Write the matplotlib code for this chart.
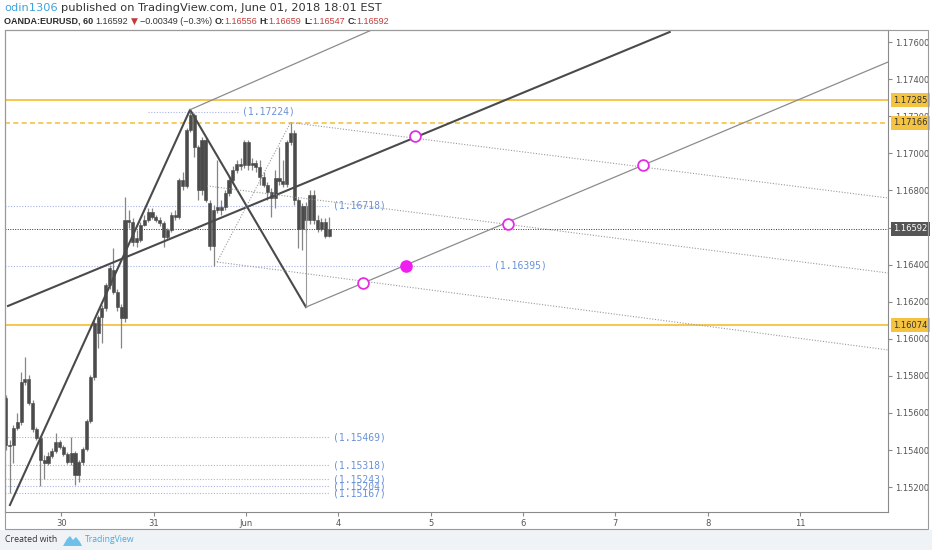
import numpy as np
import matplotlib
matplotlib.use("Agg")
import matplotlib.pyplot as plt
from matplotlib import font_manager
from matplotlib.patches import Rectangle, Polygon
from matplotlib.transforms import blended_transform_factory

W, H = 932, 550

# hourly EUR/USD candles, May 29 - Jun 01 2018
opens = [1.15681, 1.15428, 1.15425, 1.15519, 1.15552, 1.15767, 1.15784, 1.15654, 1.15514, 1.15466,
         1.15347, 1.15331, 1.15369, 1.15396, 1.15444, 1.15417, 1.15379, 1.15336, 1.15385, 1.15266,
         1.15336, 1.15406, 1.15557, 1.15794, 1.16032, 1.16118, 1.16166, 1.16290, 1.16371, 1.16253,
         1.16172, 1.16112, 1.16641, 1.16630, 1.16522, 1.16533, 1.16614, 1.16641, 1.16684, 1.16657,
         1.16641, 1.16624, 1.16549, 1.16587, 1.16668, 1.16657, 1.16856, 1.16824, 1.17126, 1.17207,
         1.17034, 1.16802, 1.17072, 1.16732, 1.16500, 1.16695, 1.16711, 1.16711, 1.16786, 1.16856,
         1.16910, 1.16942, 1.16937, 1.17061, 1.16937, 1.16948, 1.16926, 1.16872, 1.16829, 1.16792,
         1.16759, 1.16867, 1.16851, 1.16835, 1.17061, 1.17110, 1.16748, 1.16592, 1.16716, 1.16641,
         1.16775, 1.16641, 1.16592, 1.16630, 1.16556]
highs = [1.15697, 1.15455, 1.15536, 1.15600, 1.15821, 1.15902, 1.15805, 1.15670, 1.15525, 1.15476,
         1.15374, 1.15390, 1.15412, 1.15493, 1.15455, 1.15428, 1.15390, 1.15469, 1.15396, 1.15347,
         1.15417, 1.15568, 1.15805, 1.16102, 1.16130, 1.16180, 1.16300, 1.16400, 1.16490, 1.16270,
         1.16190, 1.16765, 1.16695, 1.16651, 1.16587, 1.16630, 1.16668, 1.16705, 1.16705, 1.16668,
         1.16657, 1.16635, 1.16597, 1.16684, 1.16695, 1.16867, 1.16899, 1.17136, 1.17224, 1.17215,
         1.17045, 1.17088, 1.17083, 1.16748, 1.16721, 1.16964, 1.16748, 1.16802, 1.16878, 1.16932,
         1.16964, 1.16975, 1.17072, 1.17072, 1.16975, 1.16964, 1.16964, 1.16899, 1.16845, 1.16813,
         1.16910, 1.17034, 1.16964, 1.17072, 1.17166, 1.17126, 1.16759, 1.16732, 1.16738, 1.16802,
         1.16802, 1.16668, 1.16651, 1.16651, 1.16659]
lows = [1.15401, 1.15167, 1.15331, 1.15509, 1.15536, 1.15751, 1.15643, 1.15498, 1.15455, 1.15204,
        1.15243, 1.15318, 1.15358, 1.15385, 1.15406, 1.15369, 1.15325, 1.15320, 1.15210, 1.15228,
        1.15320, 1.15396, 1.15546, 1.15778, 1.15951, 1.15978, 1.16150, 1.16270, 1.16240, 1.16150,
        1.15951, 1.16090, 1.16597, 1.16500, 1.16495, 1.16522, 1.16608, 1.16630, 1.16646, 1.16630,
        1.16608, 1.16495, 1.16533, 1.16576, 1.16641, 1.16646, 1.16802, 1.16813, 1.17115, 1.16980,
        1.16748, 1.16775, 1.16738, 1.16479, 1.16395, 1.16678, 1.16668, 1.16695, 1.16770, 1.16840,
        1.16894, 1.16910, 1.16921, 1.16910, 1.16910, 1.16899, 1.16829, 1.16818, 1.16748, 1.16657,
        1.16705, 1.16829, 1.16818, 1.16818, 1.17045, 1.16721, 1.16490, 1.16479, 1.16576, 1.16619,
        1.16619, 1.16576, 1.16581, 1.16544, 1.16547]
closes = [1.15428, 1.15422, 1.15519, 1.15552, 1.15767, 1.15784, 1.15654, 1.15514, 1.15466, 1.15347,
          1.15331, 1.15369, 1.15396, 1.15444, 1.15417, 1.15379, 1.15336, 1.15385, 1.15266, 1.15336,
          1.15406, 1.15557, 1.15794, 1.16085, 1.16118, 1.16166, 1.16290, 1.16382, 1.16253, 1.16172,
          1.16112, 1.16641, 1.16630, 1.16522, 1.16544, 1.16614, 1.16641, 1.16684, 1.16657, 1.16641,
          1.16624, 1.16549, 1.16587, 1.16668, 1.16657, 1.16856, 1.16824, 1.17126, 1.17207, 1.17034,
          1.16802, 1.17072, 1.16748, 1.16500, 1.16695, 1.16711, 1.16695, 1.16786, 1.16856, 1.16910,
          1.16942, 1.16932, 1.17061, 1.16937, 1.16948, 1.16926, 1.16872, 1.16829, 1.16792, 1.16759,
          1.16867, 1.16851, 1.16835, 1.17061, 1.17110, 1.16748, 1.16592, 1.16716, 1.16641, 1.16775,
          1.16641, 1.16592, 1.16630, 1.16554, 1.16592]

day_ticks = [14.4, 38.4, 62.4, 86.4, 110.4, 134.4, 158.4, 182.4, 206.4]
day_labels = ["30", "31", "Jun", "4", "5", "6", "7", "8", "11"]
price_ticks = [1.152, 1.154, 1.156, 1.158, 1.160, 1.162, 1.164, 1.166, 1.168, 1.170, 1.172, 1.174, 1.176]

# horizontal levels
yellow_solid = [1.17285, 1.16074]
yellow_dashed = 1.17166
last_price = 1.16592
# price notes: (price, bar where line starts, bar where label sits)
notes = [(1.17224, 37.0, 61.4), (1.16718, -0.2, 85.0), (1.16395, -0.2, 126.8),
         (1.15469, -0.2, 85.0), (1.15318, -0.2, 85.0), (1.15243, -0.2, 85.0),
         (1.15204, -0.2, 85.0), (1.15167, -0.2, 85.0)]

# drawing anchors (bar index, price)
zigzag_x = [1.1, 47.9, 78.0]
zigzag_p = [1.15104, 1.17235, 1.16171]
trend_x = [0.6, 172.5]
trend_p = [1.16177, 1.17654]
chan_lo_x = [78.0, 229.2]
chan_lo_p = [1.16171, 1.17492]
chan_hi_x = [47.9, 95.1]
chan_hi_p = [1.17235, 1.17665]
vert_x = [78.0, 78.0]
vert_p = [1.16718, 1.16171]
fork_top_x, fork_top_p = [74.0, 229.2], [1.17166, 1.16759]
fork_mid_x, fork_mid_p = [52.3, 229.2], [1.16824, 1.16355]
fork_bot_x, fork_bot_p = [54.9, 229.2], [1.16414, 1.15940]
fork_link_x, fork_link_p = [54.9, 74.0], [1.16414, 1.17166]
ring_x = [106.3, 165.5, 130.5, 92.8]
ring_p = [1.17093, 1.16937, 1.16619, 1.16301]
dot_x, dot_p = [104.0], [1.16395]

YEL = "#f5c342"
RED = "#c23b3b"
INK = "#2b2b2b"
HF = ["Open Sans", "DejaVu Sans"]
installed = {f.name for f in font_manager.fontManager.ttflist}
NARROW = "Liberation Sans Narrow" if "Liberation Sans Narrow" in installed else "Liberation Sans"

fig = plt.figure(figsize=(W / 100, H / 100), dpi=100, facecolor="white")
renderer = fig.canvas.get_renderer()


def fx(x):
    return x / W


def fy(y):
    return 1 - y / H


def chain(x0, x1, y, pieces, family):
    # lay pieces out one after another, one font size so the row spans x0..x1
    size = 8.0
    for attempt in range(2):
        texts = []
        x = x0
        for s, col, wt, gap in pieces:
            fam = ["DejaVu Sans"] if s == "\u25bc" else [family, "DejaVu Sans"]
            t = fig.text(fx(x), fy(y), s, fontsize=size, color=col, weight=wt,
                         family=fam, va="center", ha="left")
            texts.append(t)
            x += t.get_window_extent(renderer).width + gap * size * 100 / 72
        if attempt == 0:
            for t in texts:
                t.remove()
            size *= (x1 - x0) / (x - x0)


def fit_text(x0, x1, y, s, **kw):
    t = fig.text(fx(x0), fy(y), s, fontsize=8, va="center", ha="left", **kw)
    w = t.get_window_extent(renderer).width
    t.set_fontsize(8 * (x1 - x0) / w)
    return t


fig.patches.append(Rectangle((0, 0), 1, fy(530), transform=fig.transFigure,
                             facecolor="#f0f3f6", edgecolor="none", zorder=0))

ax = fig.add_axes([fx(5), fy(512), fx(888) - fx(5), fy(30) - fy(512)])
ax.set_xlim(-0.18, 229.2)
ax.set_ylim(1.150663, 1.176647)
ax.set_facecolor("white")

# candles
idx = np.arange(len(opens))
o = np.array(opens)
c = np.array(closes)
ax.vlines(idx, lows, highs, color="#858585", lw=0.9, zorder=3)
body_lo = np.minimum(o, c)
body_h = np.maximum(np.abs(c - o), 0.00004)
ax.bar(idx, body_h, bottom=body_lo, width=0.8, color="#4b4b4b", edgecolor="#4b4b4b",
       lw=0.4, zorder=4)

# levels
for lv in yellow_solid:
    ax.axhline(lv, color=YEL, lw=1.3, zorder=2)
ax.axhline(yellow_dashed, color=YEL, lw=1.2, ls=(0, (3, 2)), zorder=2)
ax.axhline(last_price, color="#333333", lw=0.7, ls=(0, (1, 1.5)), zorder=2)

for p, x0, xl in notes:
    ax.plot([x0, xl - 1.0], [p, p], color="#a9b5e6", lw=0.8, ls=(0, (1, 1.5)), zorder=2)
    ax.text(xl, p, "(%.5f)" % p, color="#6a92d8", fontsize=7, family="DejaVu Sans Mono",
            va="center", ha="left", zorder=6)

# drawings
ax.plot(zigzag_x, zigzag_p, color="#4a4a4a", lw=1.5, zorder=5)
ax.plot(trend_x, trend_p, color="#4a4a4a", lw=1.5, zorder=5)
ax.plot(chan_lo_x, chan_lo_p, color="#8c8c8c", lw=0.9, zorder=5)
ax.plot(chan_hi_x, chan_hi_p, color="#8c8c8c", lw=0.9, zorder=5)
ax.plot(vert_x, vert_p, color="#9a9a9a", lw=0.8, zorder=5)
for xs, ps in [(fork_top_x, fork_top_p), (fork_mid_x, fork_mid_p),
               (fork_bot_x, fork_bot_p), (fork_link_x, fork_link_p)]:
    ax.plot(xs, ps, color="#9a9a9a", lw=0.8, ls=(0, (1, 1.5)), zorder=5)
ax.scatter(ring_x, ring_p, s=60, facecolor="white", edgecolor="#e22fe2", lw=1.3, zorder=7)
ax.scatter(dot_x, dot_p, s=65, facecolor="#f01ef0", edgecolor="#f01ef0", zorder=7)

# axes styling
for s in ax.spines.values():
    s.set_color("#8a8a8a")
    s.set_linewidth(0.8)
ax.yaxis.tick_right()
ax.set_yticks(price_ticks)
ax.set_yticklabels(["%.5f" % t for t in price_ticks])
ax.tick_params(axis="y", direction="out", length=3, pad=2, labelsize=6,
               labelcolor="#555555", color="#8a8a8a")
ax.set_xticks(day_ticks)
ax.set_xticklabels(day_labels)
ax.tick_params(axis="x", direction="out", length=3, pad=2, labelsize=6,
               labelcolor="#555555", color="#8a8a8a")

trans = blended_transform_factory(ax.transAxes, ax.transData)
boxes = [(1.17285, YEL, "#333333"), (1.17166, YEL, "#333333"),
         (1.16592, "#555555", "white"), (1.16074, YEL, "#333333")]
for p, bg, fg in boxes:
    ax.text(1.0 + 5 / 883, p, "%.5f" % p, transform=trans, fontsize=6, color=fg,
            va="center", ha="left", clip_on=False, zorder=10,
            bbox=dict(boxstyle="square,pad=0.3", facecolor=bg, edgecolor="none"))

# outer frame
fig.patches.append(Rectangle((fx(5), fy(529)), fx(928) - fx(5), fy(30) - fy(529),
                             transform=fig.transFigure, facecolor="none",
                             edgecolor="#9a9a9a", lw=0.8, zorder=1))

# header
chain(4, 383, 8, [("odin1306", "#3fa3db", "normal", 0.3),
                  ("published on TradingView.com, June 01, 2018 18:01 EST", "#333333",
                   "normal", 0)], "DejaVu Sans")
chain(4, 387, 21, [("OANDA:EURUSD, 60", INK, "bold", 0.3),
                   ("1.16592", "#333333", "normal", 0.25),
                   ("\u25bc", RED, "normal", 0.25),
                   ("\u22120.00349 (\u22120.3%)", "#333333", "normal", 0.3),
                   ("O:", INK, "bold", -0.05), ("1.16556", RED, "normal", 0.3),
                   ("H:", INK, "bold", -0.05), ("1.16659", RED, "normal", 0.3),
                   ("L:", INK, "bold", -0.05), ("1.16547", RED, "normal", 0.3),
                   ("C:", INK, "bold", -0.05), ("1.16592", RED, "normal", 0)], NARROW)

# footer
fit_text(5, 57, 540, "Created with", color="#333333", family=HF)
logo = [(63, 546), (67, 539), (70, 536), (73, 540), (76, 537), (80, 542), (82, 546)]
fig.patches.append(Polygon([(fx(a), fy(b)) for a, b in logo], closed=True,
                           transform=fig.transFigure, facecolor="#6ec0ea",
                           edgecolor="none", zorder=2))
fit_text(85, 135, 540, "TradingView", color="#4aa8dc", family=HF)

fig.savefig("out.png", dpi=100, facecolor=fig.get_facecolor())
